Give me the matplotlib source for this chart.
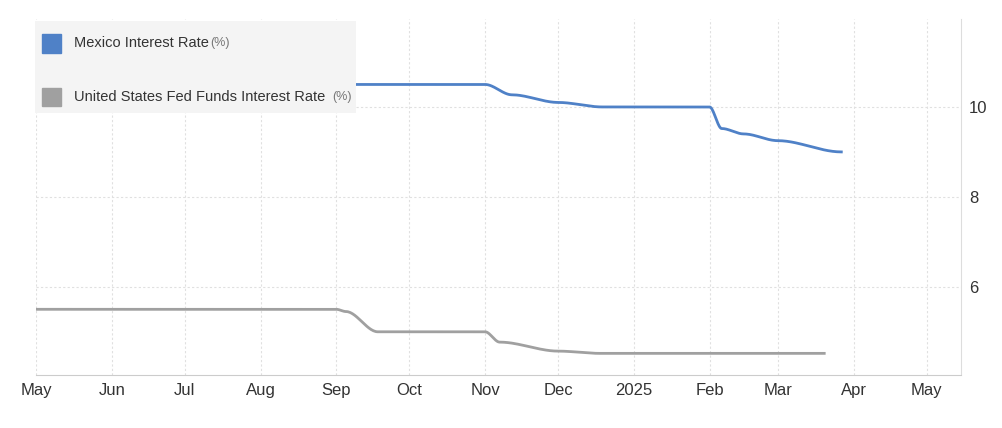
import matplotlib
matplotlib.use("Agg")
import matplotlib.pyplot as plt
import matplotlib.dates as mdates
import numpy as np
import pandas as pd

plt.rcParams["font.family"] = "Liberation Sans"

mx_dates = ["2024-05-01","2024-06-27","2024-08-08","2024-09-01","2024-11-01","2024-11-12",
            "2024-12-01","2024-12-19","2025-02-01","2025-02-06","2025-02-15","2025-03-01","2025-03-27"]
mx_vals = [11.0,11.0,10.75,10.5,10.5,10.27,10.1,10.0,10.0,9.52,9.4,9.25,9.0]
us_dates = ["2024-05-01","2024-09-01","2024-09-05","2024-09-18","2024-11-01","2024-11-07",
            "2024-12-01","2024-12-18","2025-03-20"]
us_vals = [5.5,5.5,5.45,5.0,5.0,4.77,4.57,4.52,4.52]
yticks = [6,8,10]
xtick_dates = ["2024-05-01","2024-06-01","2024-07-01","2024-08-01","2024-09-01","2024-10-01",
               "2024-11-01","2024-12-01","2025-01-01","2025-02-01","2025-03-01","2025-04-01","2025-05-01"]
xtick_labels = ["May","Jun","Jul","Aug","Sep","Oct","Nov","Dec","2025","Feb","Mar","Apr","May"]

def smooth(dates, vals):
    t = pd.to_datetime(dates)
    x = mdates.date2num(t)
    xs, ys = [], []
    for i in range(len(x)-1):
        s = np.linspace(0, 1, 30)
        h = s*s*(3-2*s)
        xs.extend(x[i] + (x[i+1]-x[i])*s)
        ys.extend(vals[i] + (vals[i+1]-vals[i])*h)
    return np.array(xs), np.array(ys)

fig = plt.figure(figsize=(10.03, 4.28), dpi=100)
ax = fig.add_axes([0.036, 0.125, 0.922, 0.83])
x1, y1 = smooth(mx_dates, mx_vals)
x2, y2 = smooth(us_dates, us_vals)
ax.plot(x1, y1, color="#4f81c7", lw=2)
ax.plot(x2, y2, color="#a0a0a0", lw=2)
ax.set_xlim(mdates.date2num(pd.Timestamp("2024-05-01")), mdates.date2num(pd.Timestamp("2025-05-15")))
ax.set_ylim(4.05, 11.95)
ax.set_xticks(mdates.date2num(pd.to_datetime(xtick_dates)))
ax.set_xticklabels(xtick_labels, fontsize=12, color="#333333")
ax.set_yticks(yticks)
ax.set_yticklabels([str(v) for v in yticks], fontsize=12, color="#333333")
ax.yaxis.tick_right()
ax.tick_params(length=0, pad=6)
ax.grid(True, color="#e0e0e0", ls=(0, (2, 2)), lw=0.8)
for s in ["top", "left"]:
    ax.spines[s].set_visible(False)
ax.spines["bottom"].set_color("#cccccc")
ax.spines["right"].set_color("#dddddd")

lax = fig.add_axes([0.035, 0.735, 0.32, 0.215])
lax.set_xlim(0, 1); lax.set_ylim(0, 1)
lax.axis("off")
lax.add_patch(plt.Rectangle((0, 0), 1, 1, color="#f4f4f4", transform=lax.transAxes))
lax.add_patch(plt.Rectangle((0.02, 0.66), 0.06, 0.2, color="#4f81c7"))
lax.add_patch(plt.Rectangle((0.02, 0.08), 0.06, 0.2, color="#a0a0a0"))
lax.text(0.12, 0.76, "Mexico Interest Rate", fontsize=10.5, va="center", color="#333333")
lax.text(0.545, 0.76, "(%)", fontsize=9, va="center", color="#777777")
lax.text(0.12, 0.18, "United States Fed Funds Interest Rate", fontsize=10.5, va="center", color="#333333")
lax.text(0.925, 0.18, "(%)", fontsize=9, va="center", color="#777777")

fig.savefig("out.png", dpi=100)
